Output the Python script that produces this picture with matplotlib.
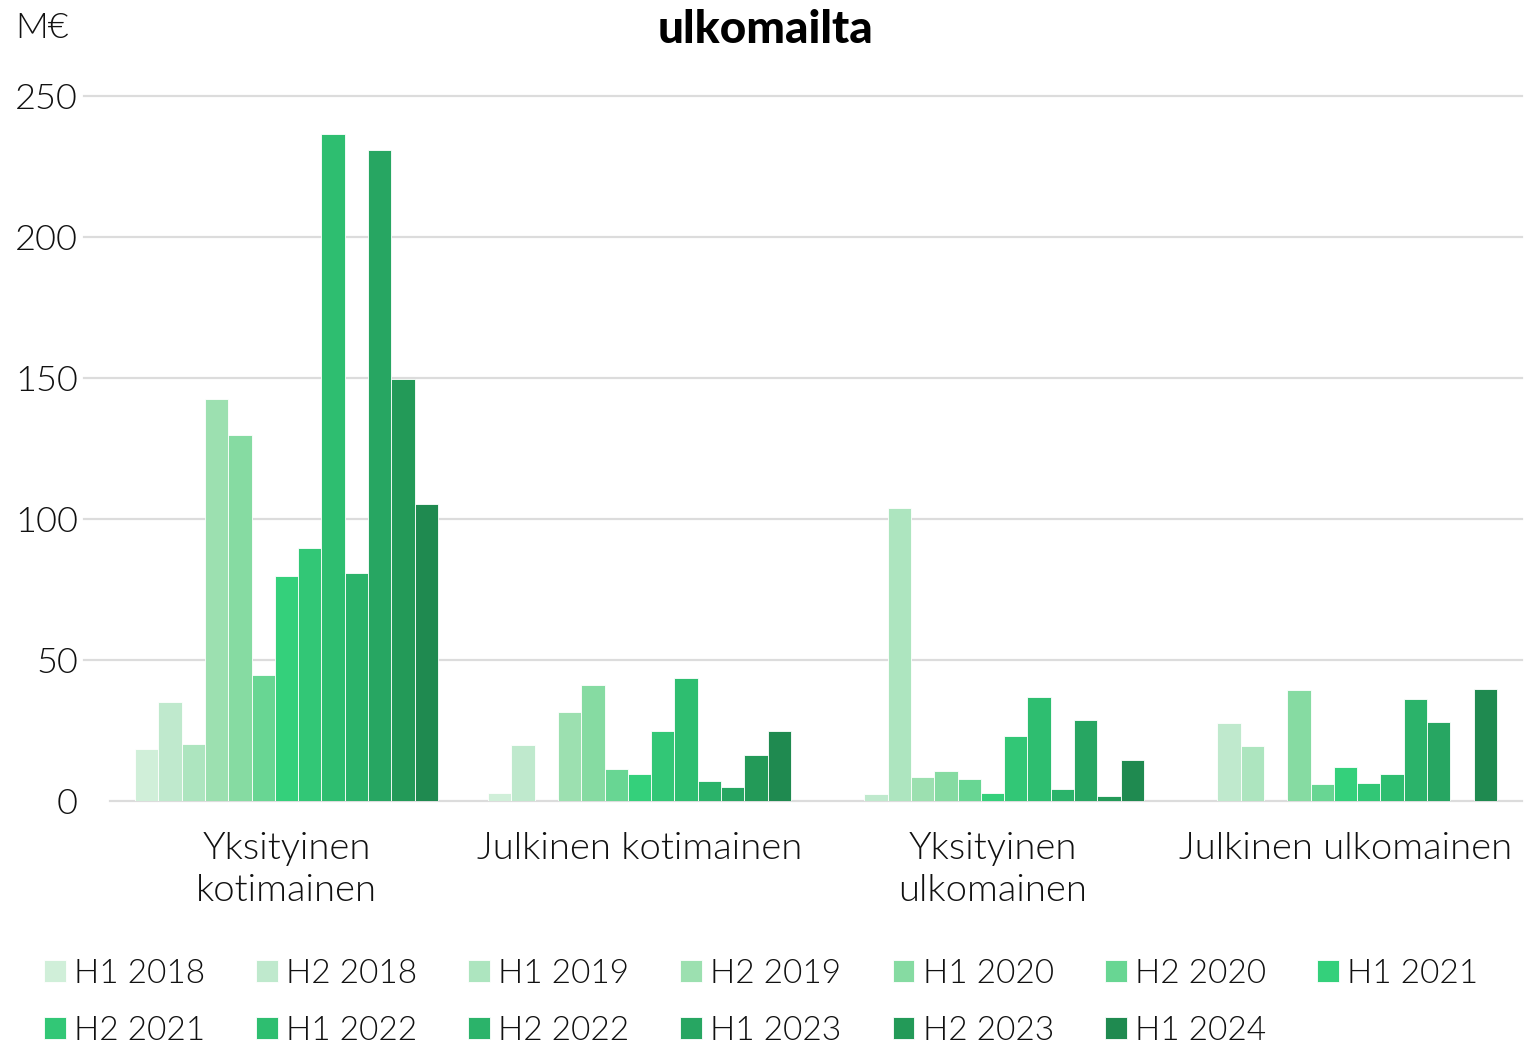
import matplotlib
matplotlib.use("Agg")
import matplotlib.pyplot as plt
import numpy as np
from matplotlib.lines import Line2D

plt.rcParams['font.family'] = ['Lato', 'DejaVu Sans']
plt.rcParams['font.weight'] = 300

categories = ["Yksityinen\nkotimainen", "Julkinen kotimainen",
              "Yksityinen\nulkomainen", "Julkinen ulkomainen"]
periods = ["H1 2018", "H2 2018", "H1 2019", "H2 2019", "H1 2020", "H2 2020",
           "H1 2021", "H2 2021", "H1 2022", "H2 2022", "H1 2023", "H2 2023",
           "H1 2024"]
colors = ["#d0efd9", "#bfe9cd", "#ade5bf", "#9ce0b0", "#86dba2", "#68d693",
          "#34d07b", "#32c776", "#2ebe70", "#2bb36a", "#27a662", "#239a58",
          "#1f8a50"]

# values per period, one entry per category (M€)
h1_2018 = [18.4, 2.8, 0.0, 0.0]
h2_2018 = [35.1, 19.7, 2.4, 27.8]
h1_2019 = [20.2, 0.0, 103.8, 19.6]
h2_2019 = [142.4, 31.5, 8.6, 0.0]
h1_2020 = [129.8, 41.3, 10.6, 39.4]
h2_2020 = [44.6, 11.3, 7.7, 5.9]
h1_2021 = [79.9, 9.7, 2.8, 12.2]
h2_2021 = [89.7, 24.7, 23.0, 6.3]
h1_2022 = [236.5, 43.5, 36.8, 9.7]
h2_2022 = [81.0, 7.2, 4.1, 36.2]
h1_2023 = [230.7, 4.9, 28.7, 27.9]
h2_2023 = [149.8, 16.2, 1.8, 0.0]
h1_2024 = [105.3, 24.7, 14.5, 39.6]

series = [h1_2018, h2_2018, h1_2019, h2_2019, h1_2020, h2_2020, h1_2021,
          h2_2021, h1_2022, h2_2022, h1_2023, h2_2023, h1_2024]

yticks = [0, 50, 100, 150, 200, 250]

W, H = 1524, 1044
fig = plt.figure(figsize=(W / 100, H / 100), dpi=100)
ax = fig.add_axes([110 / W, 1 - 801 / H, (1522 - 110) / W, (801 - 96) / H])

n = len(series)
bw = 0.066
x = np.arange(len(categories))
bars = []
for i, (vals, c, lab) in enumerate(zip(series, colors, periods)):
    offs = (i - (n - 1) / 2) * bw
    b = ax.bar(x + offs, vals, width=bw, color=c, edgecolor="#ffffff",
               linewidth=0.6, label=lab, zorder=3)
    bars.append(b)

ax.set_xlim(-0.5, 3.5)
ax.set_ylim(0, 250)
for s in ax.spines.values():
    s.set_visible(False)

# horizontal grid lines reaching a little left of the plot area
for yv in yticks:
    x0 = -26 / (1522 - 110) if yv > 0 else 0
    ax.add_line(Line2D([x0, 1], [yv, yv], transform=ax.get_yaxis_transform(),
                       color="#dcdcdc", linewidth=1.6, clip_on=False, zorder=1))

ax.set_yticks(yticks)
ax.set_yticklabels([str(v) for v in yticks], fontsize=26, color="#111111")
ax.tick_params(axis="y", length=0, pad=23)
ax.set_xticks(x)
ax.set_xticklabels(categories, fontsize=27.5, color="#111111", linespacing=1.3)
ax.tick_params(axis="x", length=0, pad=22)

fig.text(15 / W, 1 - 28 / H, "M€", fontsize=26, color="#111111",
         ha="left", va="center")
fig.text(765 / W, 1 - 30 / H, "ulkomailta", fontsize=33, fontweight=900,
         color="#000000", ha="center", va="center")

# legend filled row by row: 7 entries on the first row, 6 on the second
order = [0, 7, 1, 8, 2, 9, 3, 10, 4, 11, 5, 12, 6]
leg = fig.legend([bars[k] for k in order], [periods[k] for k in order],
                 loc="upper left", bbox_to_anchor=(44 / W, 1 - 959 / H),
                 ncol=7, frameon=False, fontsize=24, handlelength=0.65,
                 handleheight=0.65, handletextpad=0.25, columnspacing=1.53,
                 labelspacing=0.8, borderaxespad=0, borderpad=0)
for t in leg.get_texts():
    t.set_color("#111111")

fig.savefig("out.png", dpi=100)
